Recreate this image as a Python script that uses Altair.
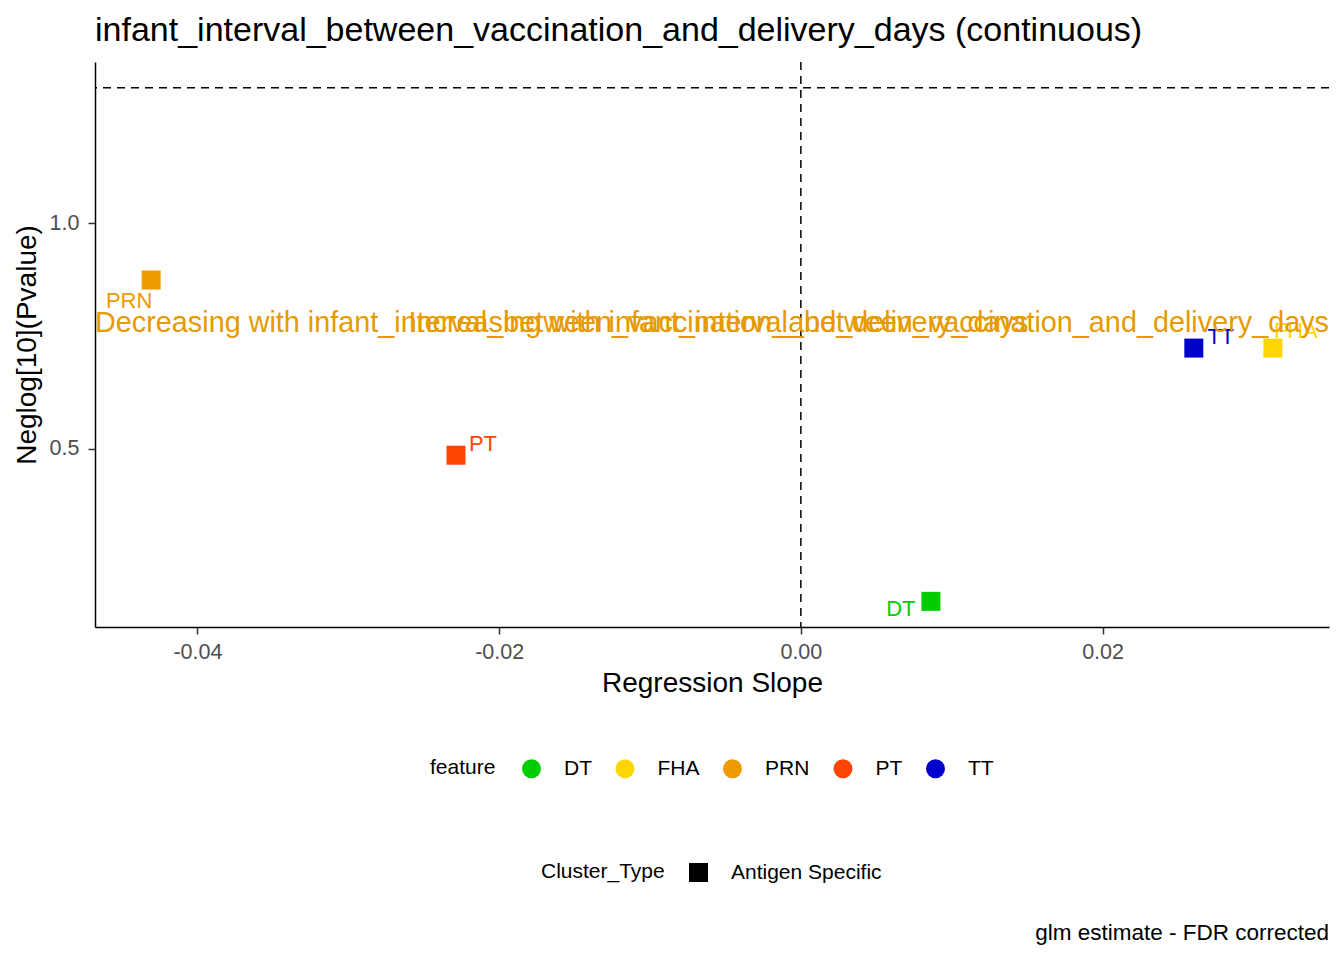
import altair as alt
import pandas as pd

features = ["DT", "FHA", "PRN", "PT", "TT"]
slopes = [0.00862, 0.03129, -0.04307, -0.02286, 0.02605]
neglogp = [0.1622, 0.7237, 0.8746, 0.4862, 0.7237]
cluster_type = ["Antigen Specific"] * 5
colors = ["#00CD00", "#FFD700", "#EE9A00", "#FF4500", "#0000CD"]

x_domain = [-0.04679, 0.03501]
y_domain = [0.1053, 1.358]
sig_line = 1.30103
annot_y = 0.78
annot_texts = [
    "Decreasing with infant_interval_between_vaccination_and_delivery_days",
    "Increasing with infant_interval_between_vaccination_and_delivery_days",
]

FONT = "Liberation Sans"
W, H = 1234, 565

df = pd.DataFrame({
    "feature": features,
    "slope": slopes,
    "neglogp": neglogp,
    "Cluster_Type": cluster_type,
})

xs = alt.Scale(domain=x_domain, nice=False, zero=False)
ys = alt.Scale(domain=y_domain, nice=False, zero=False)
cs = alt.Scale(domain=features, range=colors)

axis_style = dict(
    grid=False, tickSize=7, domainColor="black", domainWidth=1.5,
    tickColor="#333333", tickWidth=1.5, labelColor="#4D4D4D",
    labelFontSize=21.5, labelFont=FONT, titleFont=FONT, titleFontSize=28,
    titleFontWeight="normal", titleColor="black",
)

x_enc = alt.X("slope:Q", scale=xs, axis=alt.Axis(
    title="Regression Slope", values=[-0.04, -0.02, 0, 0.02],
    labelExpr="datum.value < 0 ? '-' + format(-datum.value, '.2f') : format(datum.value, '.2f')",
    labelPadding=7, titlePadding=7, **axis_style))
y_enc = alt.Y("neglogp:Q", scale=ys, axis=alt.Axis(
    title="Neglog[10](Pvalue)", values=[0.5, 1.0], format=".1f",
    labelPadding=9, titlePadding=8, **axis_style))

base = alt.Chart(df)

hline = alt.Chart(pd.DataFrame({"y": [sig_line]})).mark_rule(
    color="black", strokeDash=[8, 6], strokeWidth=1.5
).encode(y=alt.Y("y:Q", scale=ys))
vline = alt.Chart(pd.DataFrame({"x": [0.0]})).mark_rule(
    color="black", strokeDash=[8, 6], strokeWidth=1.5
).encode(x=alt.X("x:Q", scale=xs))

points = base.mark_point(filled=True, size=361, opacity=1, strokeWidth=0).encode(
    x=x_enc, y=y_enc,
    color=alt.Color("feature:N", scale=cs, legend=alt.Legend(
        title="feature", orient="none", legendX=335, legendY=696,
        direction="horizontal", titleOrient="left", symbolType="circle",
        symbolSize=361, symbolStrokeWidth=0, labelOffset=22, columnPadding=22.5,
        titlePadding=25, padding=0, titleFontSize=21, labelFontSize=21,
        titleFontWeight="normal", titleFont=FONT, labelFont=FONT,
        titleColor="black", labelColor="black", titleBaseline="middle")),
    shape=alt.Shape("Cluster_Type:N", scale=alt.Scale(range=["square"]), legend=alt.Legend(
        title="Cluster_Type", orient="none", legendX=446, legendY=800,
        direction="horizontal", titleOrient="left", symbolType="square",
        symbolSize=361, symbolFillColor="black", symbolStrokeWidth=0,
        labelOffset=22, titlePadding=23, padding=0, titleFontSize=21,
        labelFontSize=21, titleFontWeight="normal", titleFont=FONT,
        labelFont=FONT, titleColor="black", labelColor="black",
        titleBaseline="middle")),
)

offsets = {"DT": (-30, 8), "FHA": (23, -17), "PRN": (-22, 21), "PT": (27, -11), "TT": (27, -11)}
label_layers = []
for f in features:
    dx, dy = offsets[f]
    label_layers.append(
        base.transform_filter(alt.datum.feature == f).mark_text(
            dx=dx, dy=dy, fontSize=22, font=FONT, align="center", baseline="middle"
        ).encode(
            x=alt.X("slope:Q", scale=xs), y=alt.Y("neglogp:Q", scale=ys),
            text="feature:N",
            color=alt.Color("feature:N", scale=cs, legend=None),
        )
    )

annot_df = pd.DataFrame({
    "x": [x_domain[0], x_domain[1]],
    "y": [annot_y, annot_y],
    "label": annot_texts,
})
annot_left = alt.Chart(annot_df.iloc[[0]]).mark_text(
    align="left", baseline="middle", fontSize=28.8, font=FONT, color="#E69A00"
).encode(x=alt.X("x:Q", scale=xs), y=alt.Y("y:Q", scale=ys), text="label:N")
annot_right = alt.Chart(annot_df.iloc[[1]]).mark_text(
    align="right", baseline="middle", fontSize=28.8, font=FONT, color="#E69A00"
).encode(x=alt.X("x:Q", scale=xs), y=alt.Y("y:Q", scale=ys), text="label:N")

caption = alt.Chart(pd.DataFrame({"t": ["glm estimate - FDR corrected"]})).mark_text(
    align="right", baseline="middle", fontSize=22.5, font=FONT, color="black"
).encode(x=alt.value(W), y=alt.value(871), text="t:N")

chart = alt.layer(
    hline, vline, points, *label_layers, annot_left, annot_right, caption
).properties(
    width=W, height=H,
    title=alt.TitleParams(
        "infant_interval_between_vaccination_and_delivery_days (continuous)",
        anchor="start", frame="group", fontSize=34, font=FONT,
        fontWeight="normal", color="black", baseline="alphabetic", offset=-14),
    autosize=alt.AutoSizeParams(type="none"),
    padding={"left": 87, "top": 54, "right": 7, "bottom": 330},
).configure_view(stroke=None)

chart.save("out.html", embed_options={"renderer": "svg", "actions": False})
